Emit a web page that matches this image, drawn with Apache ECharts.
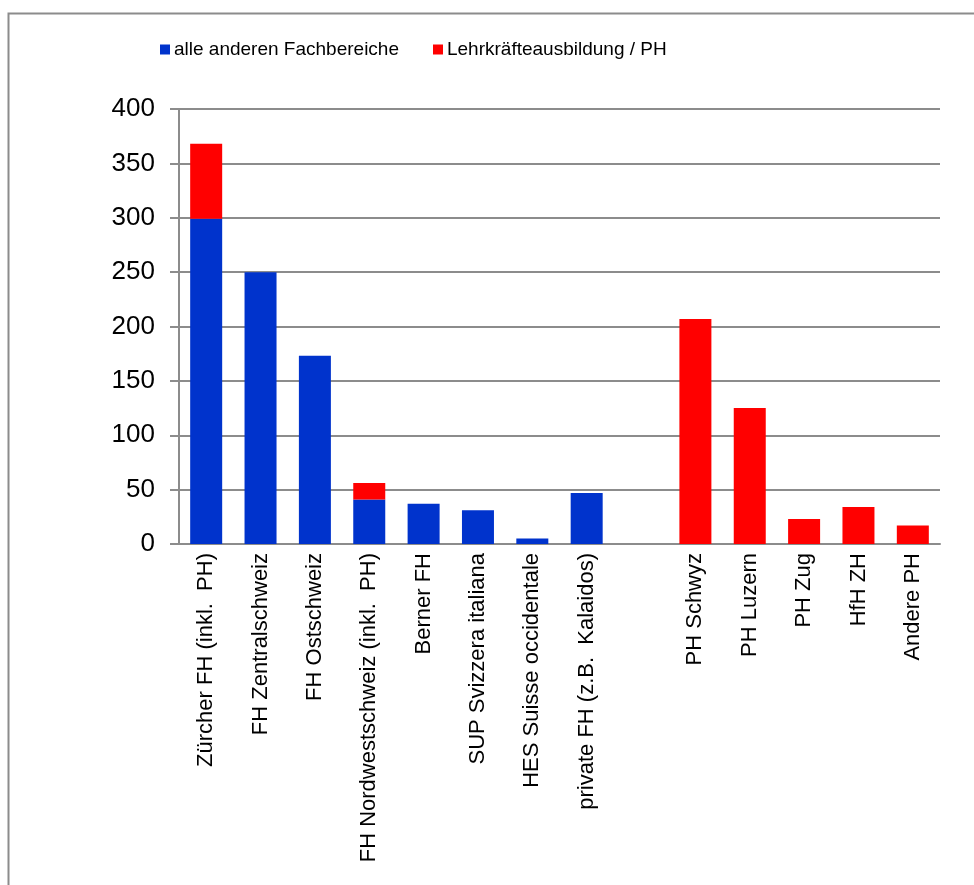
<!DOCTYPE html>
<html>
<head>
<meta charset="utf-8">
<script src="https://cdn.jsdelivr.net/npm/echarts@6/dist/echarts.min.js"></script>
<style>
html,body{margin:0;padding:0;background:#fff;}
#c{width:974px;height:885px;}
</style>
</head>
<body>
<div id="c"></div>
<script>
var categories = ['Zürcher FH (inkl.  PH)', 'FH Zentralschweiz', 'FH Ostschweiz', 'FH Nordwestschweiz (inkl.  PH)', 'Berner FH', 'SUP Svizzera italiana', 'HES Suisse occidentale', 'private FH (z.B.  Kalaidos)', '', 'PH Schwyz', 'PH Luzern', 'PH Zug', 'HfH ZH', 'Andere PH'];
var andereFachbereiche = [299, 250, 173, 41, 37, 31, 5, 47, null, null, null, null, null, null];
var lehrkraefte = [69, null, null, 15, null, null, null, null, null, 207, 125, 23, 34, 17];
var yTicks = [0, 50, 100, 150, 200, 250, 300, 350, 400];

var FONT = '"Liberation Sans", Arial, sans-serif';
var chart = echarts.init(document.getElementById('c'), null, {renderer: 'canvas'});
chart.setOption({
  animation: false,
  backgroundColor: '#ffffff',
  graphic: [{
    type: 'rect', left: 6, top: 11,
    shape: {width: 1100, height: 1100},
    style: {fill: 'none', stroke: '#8c8c8c', lineWidth: 2}
  }],
  legend: {
    left: 155, top: 35,
    icon: 'rect', itemWidth: 10, itemHeight: 10, itemGap: 34,
    textStyle: {fontFamily: FONT, fontSize: 19, color: '#000', padding: [0, 0, 0, -1]},
    data: ['alle anderen Fachbereiche', 'Lehrkräfteausbildung / PH']
  },
  grid: {left: 179, right: 34, top: 109, bottom: 341, containLabel: false},
  xAxis: {
    type: 'category',
    data: categories,
    axisLine: {lineStyle: {color: '#8c8c8c', width: 2}},
    axisTick: {show: false},
    axisLabel: {rotate: 90, interval: 0, margin: 9, fontFamily: FONT, fontSize: 22, color: '#000'}
  },
  yAxis: {
    type: 'value', min: 0, max: 400, interval: 50,
    axisLine: {show: true, lineStyle: {color: '#8c8c8c', width: 2}},
    axisTick: {show: true, length: 9, lineStyle: {color: '#8c8c8c', width: 2}},
    splitLine: {lineStyle: {color: '#8c8c8c', width: 2}},
    axisLabel: {margin: 24, fontFamily: FONT, fontSize: 26, color: '#000',
      formatter: function (v) { return yTicks.indexOf(v) >= 0 ? String(v) : ''; }}
  },
  series: [{
    name: 'alle anderen Fachbereiche', type: 'bar', stack: 's',
    barWidth: 32, itemStyle: {color: '#0033cc'},
    data: andereFachbereiche
  }, {
    name: 'Lehrkräfteausbildung / PH', type: 'bar', stack: 's',
    barWidth: 32, itemStyle: {color: '#ff0000'},
    data: lehrkraefte
  }]
});
</script>
</body>
</html>
